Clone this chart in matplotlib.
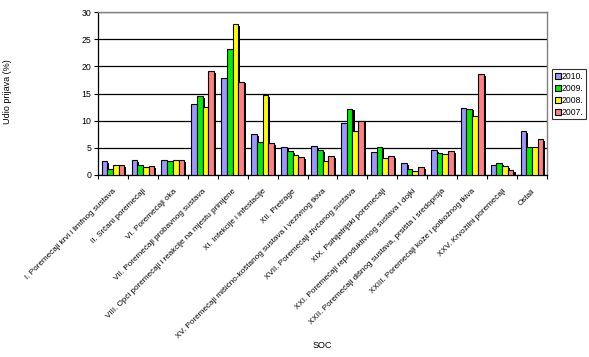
import matplotlib
matplotlib.use("Agg")
import matplotlib.pyplot as plt
import matplotlib.patheffects as pe
import numpy as np

categories = [
    "I. Poremećaji krvi i limfnog sustava",
    "II. Srčani poremećaji",
    "VI. Poremećaji oka",
    "VII. Poremećaji probavnog sustava",
    "VIII. Opći poremećaji i reakcije na mjestu primjene",
    "XI. Infekcije i infestacije",
    "XII. Pretrage",
    "XV. Poremećaji mišićno-koštanog sustava i vezivnog tkiva",
    "XVII. Poremećaji živčanog sustava",
    "XIX. Psihijatrijski poremećaji",
    "XXI. Poremećaji reproduktivnog sustava i dojki",
    "XXII. Poremećaji dišnog sustava, prsišta i sredoprsja",
    "XXIII. Poremećaji kože i potkožnog tkiva",
    "XXV. Krvožilni poremećaji",
    "Ostali",
]
years = ["2010.", "2009.", "2008.", "2007."]
v2010 = [2.5, 2.7, 2.7, 13.0, 17.8, 7.5, 5.1, 5.35, 9.5, 4.2, 2.15, 4.55, 12.3, 1.8, 8.05]
v2009 = [1.05, 1.8, 2.5, 14.5, 23.2, 6.0, 4.35, 4.55, 12.2, 5.1, 1.05, 4.0, 12.2, 2.15, 5.1]
v2008 = [1.8, 1.4, 2.7, 12.6, 27.8, 14.7, 3.6, 2.65, 8.05, 3.05, 0.7, 3.8, 10.8, 1.65, 5.1]
v2007 = [1.8, 1.6, 2.7, 19.1, 17.2, 5.8, 3.25, 3.45, 10.0, 3.45, 1.4, 4.35, 18.6, 0.85, 6.65]
colors = ["#9999FF", "#00EE00", "#FFFF00", "#FF8080"]

plt.rcParams['font.family'] = ['Liberation Sans', 'DejaVu Sans']

fig = plt.figure(figsize=(5.89, 3.57), dpi=100)
ax = fig.add_axes([98/589, 1-175/357, (547-98)/589, (175-12)/357])

x = np.arange(len(categories))
w = 0.19
series = [v2010, v2009, v2008, v2007]
for i, (vals, col, lab) in enumerate(zip(series, colors, years)):
    bars = ax.bar(x + (i - 1.5) * w, vals, width=w, color=col, edgecolor='black',
                  linewidth=0.8, label=lab, zorder=3)
    for b in bars:
        b.set_path_effects([pe.SimplePatchShadow(offset=(1.5, -1.2), shadow_rgbFace='black', alpha=1.0),
                            pe.Normal()])

ax.set_xlim(-0.5, len(categories) - 0.5)
ax.set_ylim(0, 30)
ax.set_yticks([0, 5, 10, 15, 20, 25, 30])
ax.tick_params(axis='y', labelsize=6.3, length=3, width=0.8, pad=2)
ax.yaxis.grid(True, color='black', linewidth=0.9, zorder=0)
ax.set_axisbelow(True)

ax.set_xticks(x)
ax.set_xticklabels(categories, rotation=45, ha='right', rotation_mode='anchor', fontsize=5.9)
ax.tick_params(axis='x', length=0, pad=9)
ax.set_xticks(np.arange(-0.5, len(categories)), minor=True)
ax.tick_params(axis='x', which='minor', length=3, width=0.8)

for s in ['top', 'right']:
    ax.spines[s].set_color('#808080')
    ax.spines[s].set_linewidth(1.0)
for s in ['left', 'bottom']:
    ax.spines[s].set_color('black')
    ax.spines[s].set_linewidth(0.9)

fig.text(8/589, 1-92/357, "Udio prijava (%)", rotation=90, ha='center', va='center', fontsize=6.5)
fig.text(322/589, 1-346/357, "SOC", ha='center', va='center', fontsize=6.5)

leg = fig.legend(loc='upper left', bbox_to_anchor=(552/589, 1-69/357), fontsize=6.2,
                 frameon=True, fancybox=False, handlelength=0.7, handleheight=0.7,
                 handletextpad=0.15, borderpad=0.3, labelspacing=0.35, borderaxespad=0)
leg.get_frame().set_edgecolor('black')
leg.get_frame().set_linewidth(0.8)
for h in leg.legend_handles:
    h.set_path_effects([])

fig.savefig("out.png", dpi=100)
